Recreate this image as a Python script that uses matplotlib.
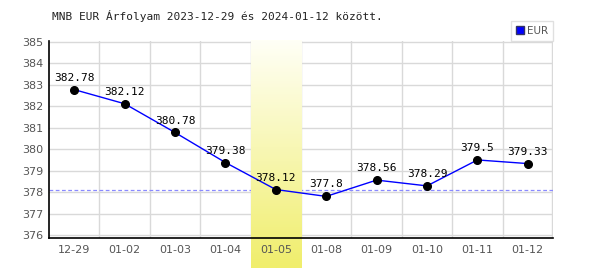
import numpy as np
import matplotlib.pyplot as plt
from matplotlib.colors import LinearSegmentedColormap

dates = ['12-29', '01-02', '01-03', '01-04', '01-05', '01-08', '01-09', '01-10', '01-11', '01-12']
rates = [382.78, 382.12, 380.78, 379.38, 378.12, 377.8, 378.56, 378.29, 379.5, 379.33]
highlight = 4
ref_rate = 378.12
title = 'MNB EUR Árfolyam 2023-12-29 és 2024-01-12 között.'

fig = plt.figure(figsize=(6, 2.7), dpi=100)
ax = fig.add_axes([49 / 600, 1 - 238 / 270, 504 / 600, 197 / 270])

x = np.arange(len(dates))
ymin, ymax = 375.86, 385.0 + 1 / 21.6

# highlighted day, gradient band running below the axis (covers grid)
cmap = LinearSegmentedColormap.from_list('hl', ['#fffff6', '#f0ee6c'])
grad = np.linspace(0, 1, 100).reshape(-1, 1)
ax.imshow(grad, cmap=cmap, aspect='auto', origin='upper',
          extent=[highlight - 0.5, highlight + 0.5, 374.45, 385.05],
          clip_on=False, zorder=2.2)
ax.set_xlim(-0.5, len(dates) - 0.5)
ax.set_ylim(ymin, ymax)

for yv in range(376, 386):
    ax.axhline(yv, color='#d9d9d9', lw=1, zorder=1)
for xv in np.arange(0.5, len(dates) + 0.5, 1):
    ax.axvline(xv - 0.01 if xv > len(dates) - 1 else xv, color='#d9d9d9', lw=1, zorder=1)

ax.axhline(ref_rate, color='#8a8aff', lw=0.9, ls=(0, (3, 2)), zorder=2)

ax.plot(x, rates, color='#0000ff', lw=1, zorder=3)
ax.plot(x, rates, 'o', color='black', ms=5.5, zorder=4)
for xi, r in zip(x, rates):
    ax.annotate(f'{r:g}', (xi, r), xytext=(0, 5), textcoords='offset points',
                ha='center', va='bottom', fontsize=8, color='black',
                family='DejaVu Sans Mono', zorder=5)

ax.set_xticks(x)
ax.set_xticklabels(dates)
ax.set_yticks(range(376, 386))
ax.tick_params(axis='both', length=0, colors='#555555', labelsize=8, pad=5)
ax.tick_params(axis='y', pad=4)
ax.xaxis.set_zorder(5)
ax.yaxis.set_zorder(5)

for s in ['top', 'right', 'left', 'bottom']:
    ax.spines[s].set_visible(False)
ax.axhline(ymin, color='black', lw=1.2, zorder=6, clip_on=False)
ax.axvline(-0.5, color='black', lw=1.2, zorder=6, clip_on=False)

fig.text(52 / 600, 1 - 16 / 270, title, fontsize=8, family='DejaVu Sans Mono',
         va='center', ha='left', color='#222222')

# legend box
leg = ax.legend([plt.Rectangle((0, 0), 1, 1, fc='#0000ff', ec='#333366')], ['EUR'],
                loc='lower right', bbox_to_anchor=(1.0, 1.0), frameon=True,
                fancybox=False, fontsize=7.5, handlelength=0.7, handleheight=0.7,
                handletextpad=0.3, borderpad=0.5, borderaxespad=0)
leg.get_frame().set_edgecolor('#d9d9d9')
leg.get_frame().set_linewidth(1)
for t in leg.get_texts():
    t.set_color('#555555')

fig.savefig('out.png', dpi=100)
